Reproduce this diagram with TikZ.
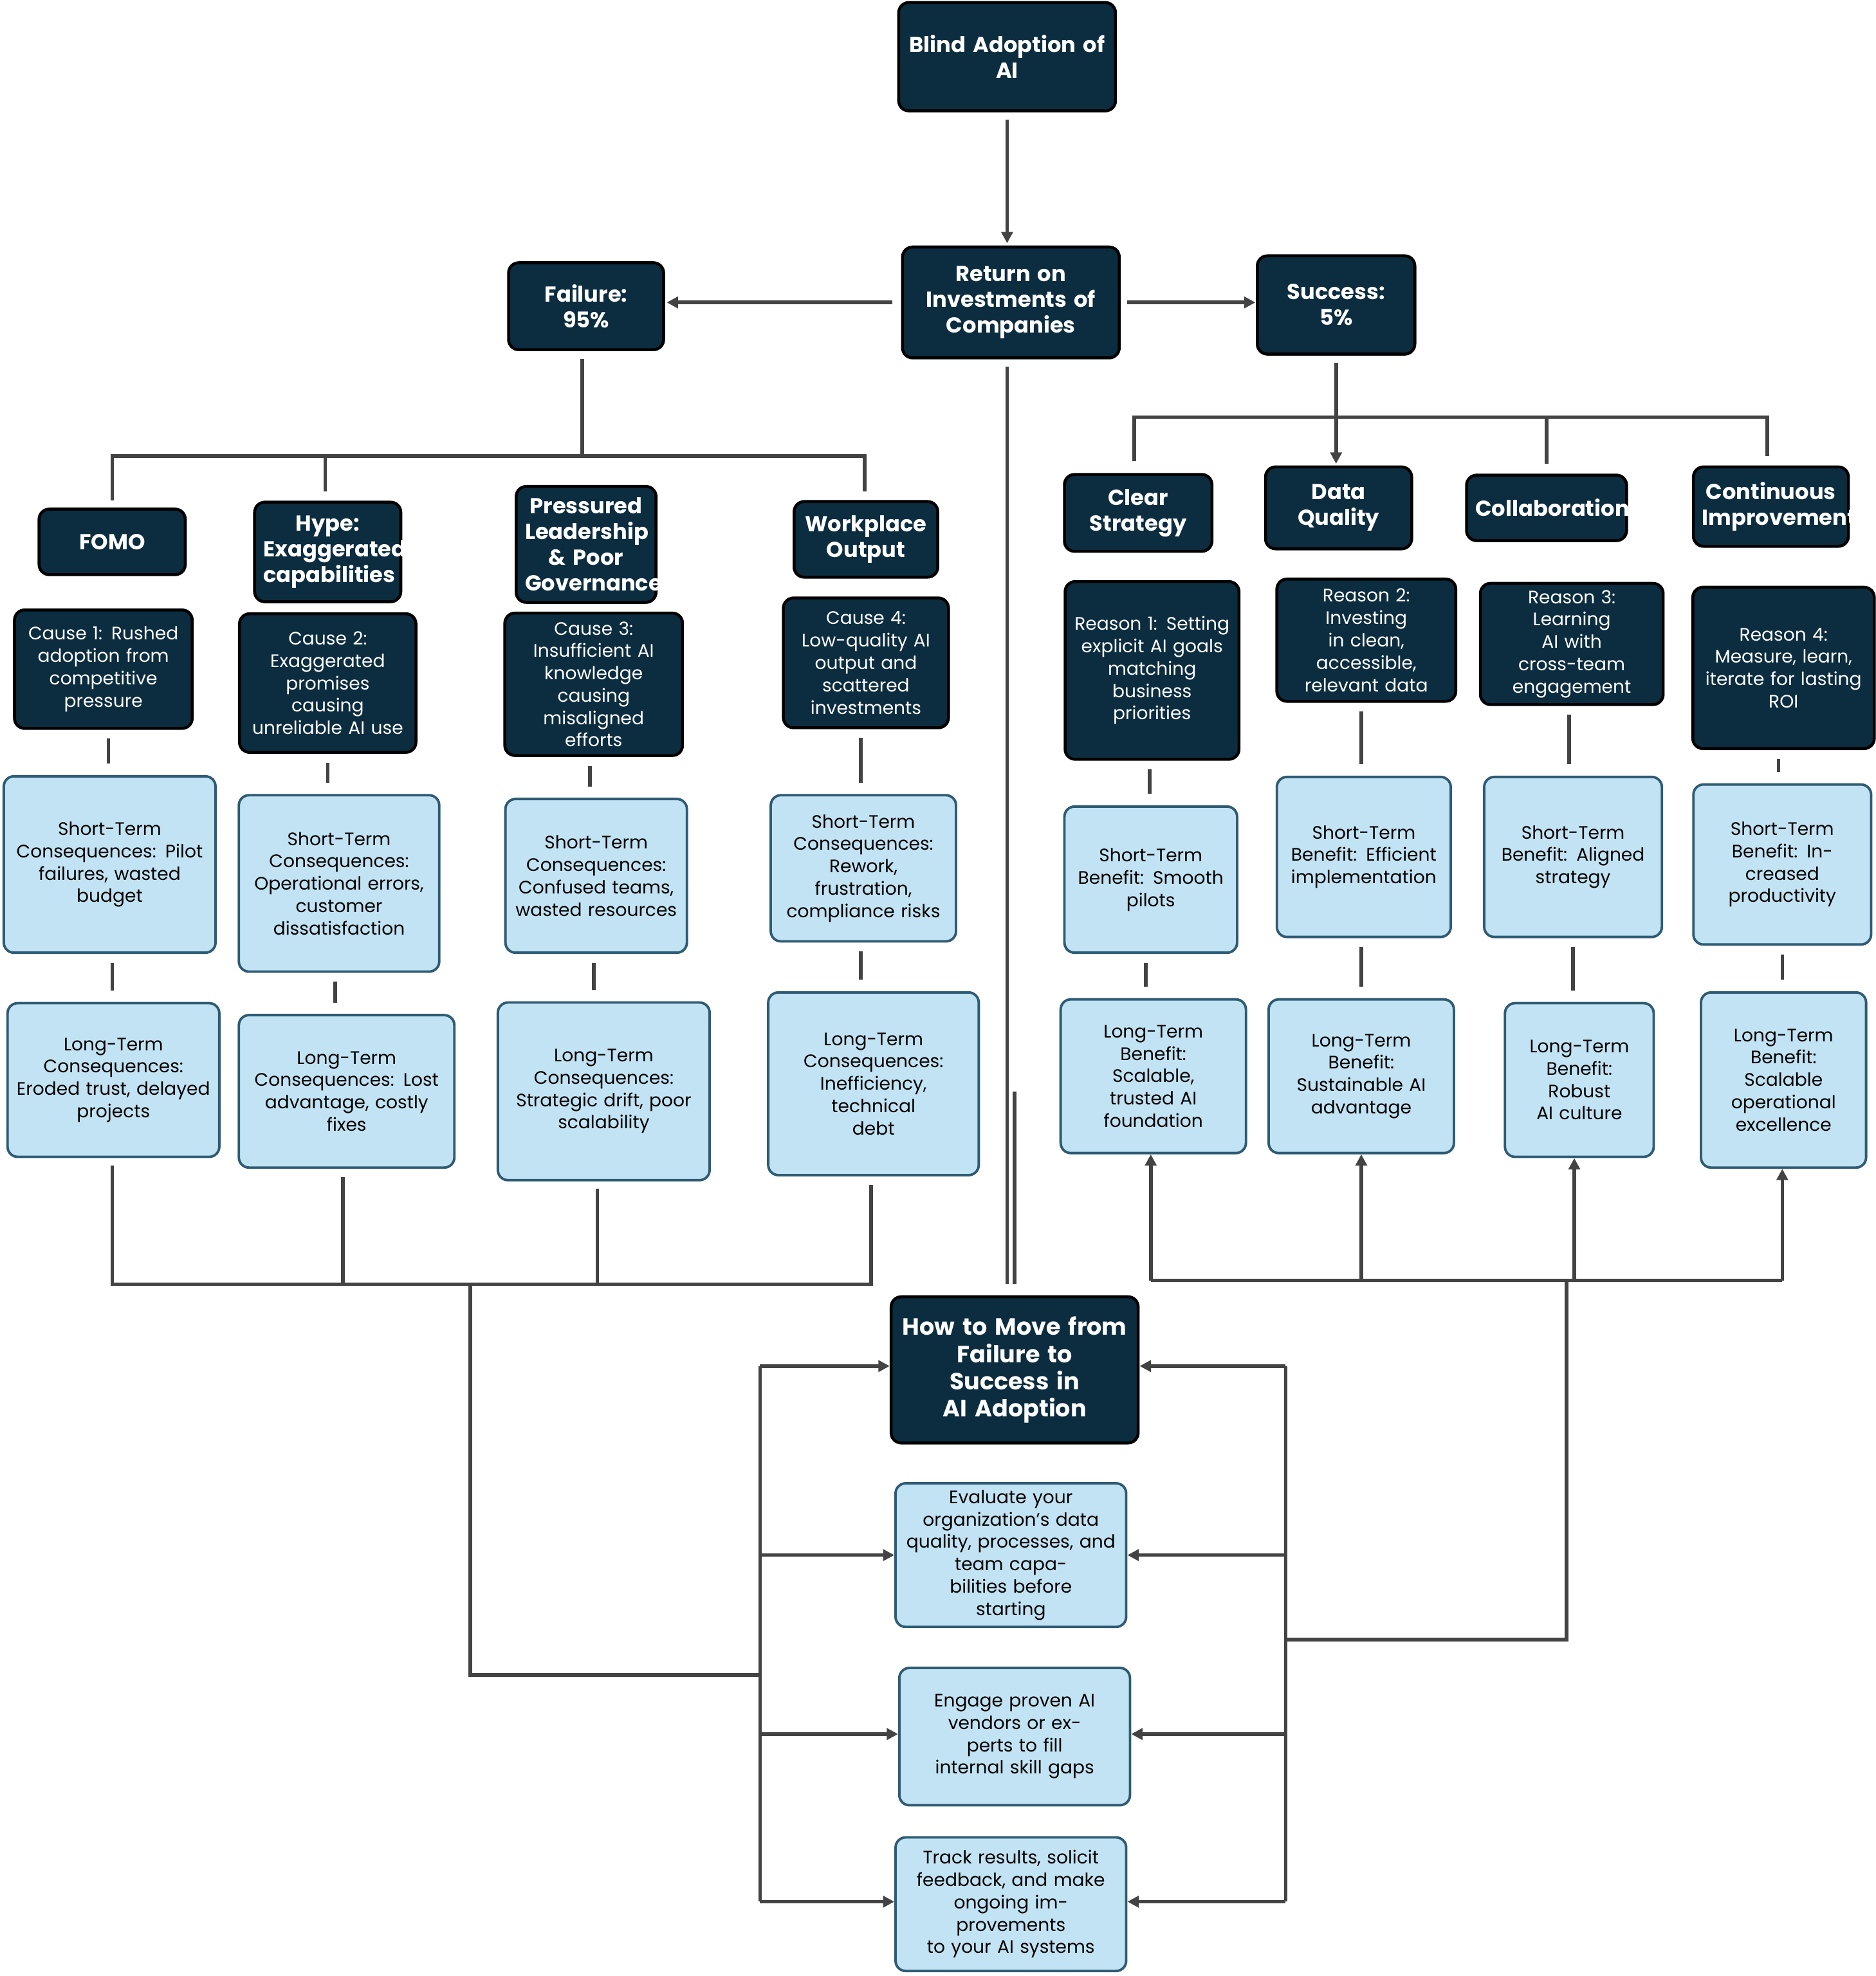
\documentclass[tikz,border=0pt]{standalone}
\usepackage{fontspec}
\setmainfont{Poppins}
\usetikzlibrary{arrows.meta}
\newlength\pxu
\setlength\pxu{0.0196cm}
\definecolor{navy}{HTML}{0C2D40}
\definecolor{skyfill}{HTML}{C2E3F3}
\definecolor{skyline}{HTML}{2F5B74}
\definecolor{wire}{HTML}{434343}

\begin{document}
\begin{tikzpicture}[x=0.0196cm,y=-0.0196cm,
    wh/.style 2 args={minimum width=#1\pxu,minimum height=#2\pxu,text width=\dimexpr#1\pxu-14\pxu\relax},
    dark/.style={draw=black,line width=1.3pt,fill=navy,text=white,rounded corners=4.5pt,align=center,
        inner sep=3pt,font=\bfseries\fontsize{9.6}{11.4}\selectfont},
    darksmall/.style={dark,font=\fontsize{8}{9.9}\selectfont},
    light/.style={draw=skyline,line width=1.1pt,fill=skyfill,text=black,rounded corners=4.5pt,align=center,
        inner sep=3pt,font=\fontsize{8}{9.9}\selectfont},
    wire/.style={draw=wire,line width=1.6pt},
    arr/.style={wire,-{Triangle[length=5pt,width=5pt]}},
    gap/.style={wire,shorten <=7\pxu,shorten >=9\pxu}]

    \useasboundingbox (0,0) rectangle (1488,1568);

    % top
    \node[dark,wh={172}{86}] (blind) at (799,45) {Blind Adoption of\\AI};
    \node[dark,wh={172}{88}] (roi) at (802,240) {Return on\\Investments of\\Companies};
    \node[dark,wh={123}{69}] (fail) at (465,243) {Failure: 95\%};
    \node[dark,wh={125}{78}] (succ) at (1060,242) {Success: 5\%};
    \draw[arr] (799,95) -- (799,193);
    \draw[arr] (708,240) -- (529,240);
    \draw[arr] (894,240) -- (996,240);

    % failure branch
    \node[dark,wh={116}{52}] (fomo) at (89,430) {FOMO};
    \node[dark,wh={116}{79}] (hype) at (260,438) {Hype:\\Exaggerated\\capabilities};
    \node[dark,wh={111}{92}] (lead) at (465,432) {Pressured\\Leadership\\\& Poor\\Governance};
    \node[dark,wh={114}{60}] (work) at (687,428) {Workplace\\Output};
    \draw[wire] (462,285) -- (462,362);
    \draw[wire] (89,397) -- (89,362) -- (686,362) -- (686,390);
    \draw[wire] (258,362) -- (258,390);

    \node[darksmall,wh={141}{94}] (cause1) at (82,531) {Cause 1: Rushed\\adoption from\\competitive\\pressure};
    \node[darksmall,wh={140}{110}] (cause2) at (260,542) {Cause 2:\\Exaggerated\\promises causing\\unreliable AI use};
    \node[darksmall,wh={141}{113}] (cause3) at (471,543) {Cause 3:\\Insufficient AI\\knowledge\\causing\\misaligned efforts};
    \node[darksmall,wh={131}{103}] (cause4) at (687,526) {Cause 4:\\Low-quality AI\\output and\\scattered\\investments};

    \node[light,wh={168}{140}] (short1) at (87,686) {Short-Term\\Consequences: Pilot\\failures, wasted\\budget};
    \node[light,wh={159}{140}] (short2) at (269,701) {Short-Term\\Consequences:\\Operational errors,\\customer\\dissatisfaction};
    \node[light,wh={144}{122}] (short3) at (473,695) {Short-Term\\Consequences:\\Confused teams,\\wasted resources};
    \node[light,wh={147}{116}] (short4) at (685,689) {Short-Term\\Consequences:\\Rework, frustration,\\compliance risks};

    \node[light,wh={168}{122}] (long1) at (90,857) {Long-Term\\Consequences:\\Eroded trust, delayed\\projects};
    \node[light,wh={171}{121}] (long2) at (275,866) {Long-Term\\Consequences: Lost\\advantage, costly\\fixes};
    \node[light,wh={168}{141}] (long3) at (479,866) {Long-Term\\Consequences:\\Strategic drift, poor\\scalability};
    \node[light,wh={167}{145}] (long4) at (693,860) {Long-Term\\Consequences:\\Inefficiency, technical\\debt};

    \draw[gap] (cause1.south -| 86,0) -- (short1.north -| 86,0);
    \draw[gap] (cause2.south -| 260,0) -- (short2.north -| 260,0);
    \draw[gap] (cause3.south -| 468,0) -- (short3.north -| 468,0);
    \draw[gap] (cause4.south -| 683,0) -- (short4.north -| 683,0);
    \draw[gap] (short1.south -| 89,0) -- (long1.north -| 89,0);
    \draw[gap] (short2.south -| 266,0) -- (long2.north -| 266,0);
    \draw[gap] (short3.south -| 471,0) -- (long3.north -| 471,0);
    \draw[gap] (short4.south -| 683,0) -- (long4.north -| 683,0);

    % success branch
    \node[dark,wh={117}{61}] (clear) at (903,407) {Clear\\Strategy};
    \node[dark,wh={116}{65}] (data) at (1062,403) {Data\\Quality};
    \node[dark,wh={127}{52}] (collab) at (1227,403) {Collaboration};
    \node[dark,wh={123}{63}] (improve) at (1405,402) {Continuous\\Improvement};
    \draw[arr] (1060,288) -- (1060,368);
    \draw[wire] (900,366) -- (900,331) -- (1402,331) -- (1402,362);
    \draw[wire] (1227,331) -- (1227,368);

    \node[darksmall,wh={138}{141}] (reason1) at (914,532) {Reason 1: Setting\\explicit AI goals\\matching\\business\\priorities};
    \node[darksmall,wh={142}{97}] (reason2) at (1084,508) {Reason 2:\\Investing in clean,\\accessible,\\relevant data};
    \node[darksmall,wh={145}{91}] (reason3) at (1247,511) {Reason 3: Learning\\AI with\\cross-team\\engagement};
    \node[darksmall,wh={144}{128}] (reason4) at (1415,530) {Reason 4:\\Measure, learn,\\iterate for lasting\\ROI};

    \node[light,wh={137}{116}] (gain1) at (913,698) {Short-Term\\Benefit: Smooth\\pilots};
    \node[light,wh={138}{127}] (gain2) at (1082,680) {Short-Term\\Benefit: Efficient\\implementation};
    \node[light,wh={141}{127}] (gain3) at (1248,680) {Short-Term\\Benefit: Aligned\\strategy};
    \node[light,wh={141}{127}] (gain4) at (1414,686) {Short-Term\\Benefit: Increased\\productivity};

    \node[light,wh={147}{122}] (lgain1) at (915,854) {Long-Term Benefit:\\Scalable, trusted AI\\foundation};
    \node[light,wh={147}{122}] (lgain2) at (1080,854) {Long-Term Benefit:\\Sustainable AI\\advantage};
    \node[light,wh={118}{122}] (lgain3) at (1253,857) {Long-Term\\Benefit: Robust\\AI culture};
    \node[light,wh={131}{139}] (lgain4) at (1415,857) {Long-Term\\Benefit: Scalable\\operational\\excellence};

    \draw[gap] (reason1.south -| 912,0) -- (gain1.north -| 912,0);
    \draw[gap] (reason2.south -| 1080,0) -- (gain2.north -| 1080,0);
    \draw[gap] (reason3.south -| 1245,0) -- (gain3.north -| 1245,0);
    \draw[gap] (reason4.south -| 1411,0) -- (gain4.north -| 1411,0);
    \draw[gap] (gain1.south -| 909,0) -- (lgain1.north -| 909,0);
    \draw[gap] (gain2.south -| 1080,0) -- (lgain2.north -| 1080,0);
    \draw[gap] (gain3.south -| 1248,0) -- (lgain3.north -| 1248,0);
    \draw[gap] (gain4.south -| 1414,0) -- (lgain4.north -| 1414,0);

    % way forward
    \node[dark,wh={196}{116},font=\bfseries\fontsize{10.4}{12}\selectfont] (how) at (805,1087) {How to Move from\\Failure to Success in\\AI Adoption};
    \node[light,wh={183}{110}] (step1) at (802,1234) {Evaluate your\\organization's data\\quality, processes, and\\team capabilities before\\starting};
    \node[light,wh={183}{109}] (step2) at (805,1378) {Engage proven AI\\vendors or experts to fill\\internal skill gaps};
    \node[light,wh={183}{106}] (step3) at (802,1511) {Track results, solicit\\feedback, and make\\ongoing improvements\\to your AI systems};

    \draw[wire] (799,291) -- (799,1019);
    \draw[wire] (805,866) -- (805,1019);

    % failure side into the way forward
    \draw[wire] (89,925) -- (89,1019) -- (691,1019) -- (691,940);
    \draw[wire] (272,934) -- (272,1019);
    \draw[wire] (474,943) -- (474,1019);
    \draw[wire] (373,1019) -- (373,1329) -- (603,1329);
    \draw[wire] (603,1084) -- (603,1509);
    \draw[arr] (603,1084) -- (how.west |- 0,1084);
    \draw[arr] (603,1234) -- (step1.west);
    \draw[arr] (603,1376) -- (step2.west |- 0,1376);
    \draw[arr] (603,1509) -- (step3.west |- 0,1509);

    % success side into the way forward
    \draw[wire] (913,1016) -- (1414,1016);
    \draw[arr] (913,1016) -- (lgain1.south -| 913,0);
    \draw[arr] (1080,1016) -- (lgain2.south -| 1080,0);
    \draw[arr] (1249,1016) -- (lgain3.south -| 1249,0);
    \draw[arr] (1414,1016) -- (lgain4.south -| 1414,0);
    \draw[wire] (1243,1016) -- (1243,1301) -- (1020,1301);
    \draw[wire] (1020,1084) -- (1020,1509);
    \draw[arr] (1020,1084) -- (how.east |- 0,1084);
    \draw[arr] (1020,1234) -- (step1.east);
    \draw[arr] (1020,1376) -- (step2.east |- 0,1376);
    \draw[arr] (1020,1509) -- (step3.east |- 0,1509);

\end{tikzpicture}
\end{document}
